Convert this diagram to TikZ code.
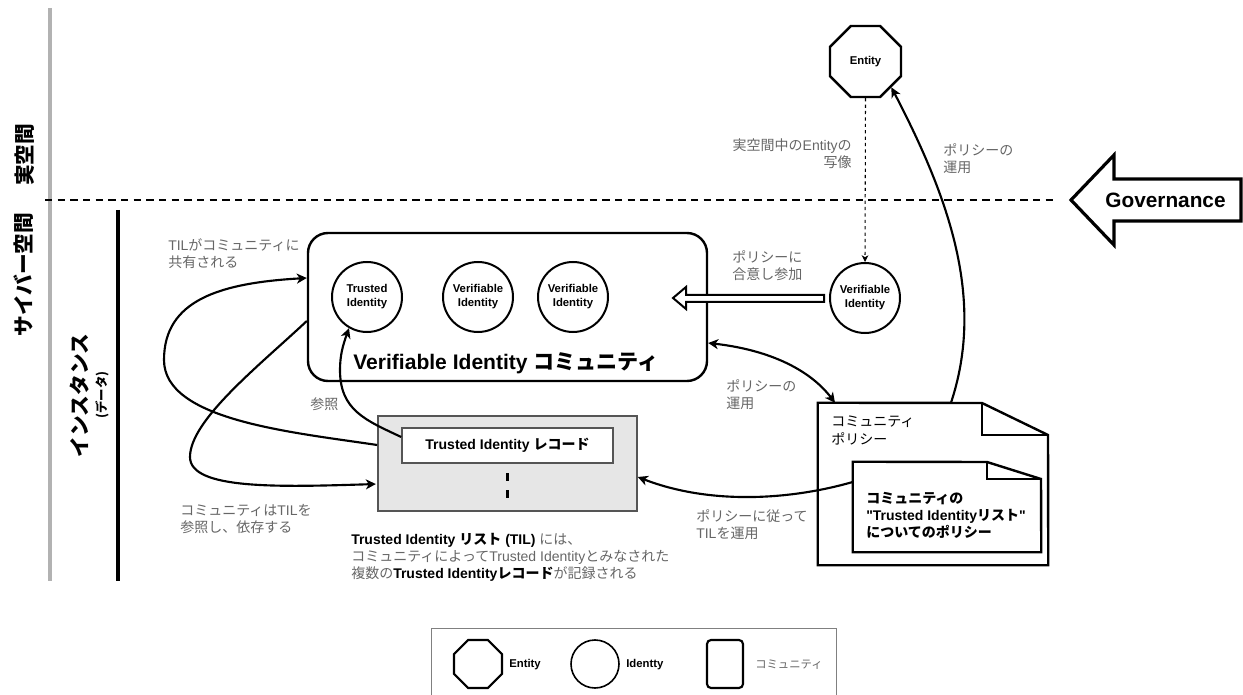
\documentclass[tikz,border=0pt]{standalone}
\usepackage{fontspec}
\setmainfont{Liberation Sans}
\newfontfamily\jp{Noto Sans CJK JP}
\newfontfamily\plainq{Liberation Sans}
\usetikzlibrary{arrows.meta,shapes.geometric,calc}
\newcommand{\J}[1]{{\jp #1}}
\definecolor{lblgray}{HTML}{666666}
\definecolor{listfill}{HTML}{E6E6E6}
\definecolor{listline}{HTML}{555555}
\newcommand{\szlabel}{\fontsize{10.5}{12.9}\selectfont}
\newcommand{\szsmall}{\fontsize{8.5}{10.5}\selectfont\bfseries}
\tikzset{
  lbl/.style={text=lblgray,font=\szlabel,align=left,inner sep=0pt,anchor=west},
  lblr/.style={lbl,align=right,anchor=east},
  lbldark/.style={lbl,text=black},
  conn/.style={line width=1.6pt,-{Stealth[length=7.5pt,width=7.5pt,inset=2.2pt]}},
  connboth/.style={line width=1.6pt,{Stealth[length=7.5pt,width=7.5pt,inset=2.2pt]}-{Stealth[length=7.5pt,width=7.5pt,inset=2.2pt]}},
  idcircle/.style={circle,draw=black,line width=1.5pt,fill=white,minimum size=70*0.75pt,inner sep=0pt,align=center,font=\szsmall},
  octa/.style={regular polygon,regular polygon sides=8,draw=black,fill=white,inner sep=0pt},
  vert/.style={rotate=90,font=\fontsize{15.5}{18}\selectfont\bfseries,inner sep=0pt},
  invis/.style={rectangle,inner sep=0pt}
}
\begin{document}
\begin{tikzpicture}[x=0.75pt,y=-0.75pt]
\useasboundingbox (0,0) rectangle (1243,695);
% side rules and separator
\coordinate (gt) at (50,8); \coordinate (gb) at (50,581);
\coordinate (kt) at (118,210); \coordinate (kb) at (118,581);
\coordinate (sl) at (45,200); \coordinate (sr) at (1055,200);
\draw[line width=3pt,draw=black!30] (gt) -- (gb);
\draw[line width=3pt,draw=black] (kt) -- (kb);
\draw[line width=1.5pt,dash pattern=on 5.5pt off 4pt] (sl) -- (sr);
% side titles
\node[vert] (t1) at (25,155) {\J{実空間}};
\node[vert] (t2) at (24,274.5) {\J{サイバー空間}};
\node[vert] (t3) at (80,395.5) {\J{インスタンス}};
\node[rotate=90,inner sep=0pt,font=\fontsize{9.3}{11}\selectfont\bfseries] (t4) at (102,395) {\J{(データ)}};
% Governance
\draw[line width=2.4pt,fill=white,miter limit=6] (1071,200) -- (1114,155) -- (1114,179) -- (1241,179) -- (1241,221) -- (1114,221) -- (1114,245) -- cycle;
\node[inner sep=0pt,font=\fontsize{15.6}{18}\selectfont\bfseries] (gov) at (1165.5,200) {Governance};
% Entity
\node[octa,line width=1.8pt,minimum size=76.8*0.75pt,font=\szsmall] (ent) at (865.5,61.5) {\raisebox{-1.5pt}{Entity}};
% Community
\node[rectangle,draw=black,line width=1.8pt,rounded corners=15pt,fill=white,minimum width=399*0.75pt,minimum height=148*0.75pt] (comm) at (507.5,307) {};
\node[idcircle] (ti) at (367,297) {Trusted\\Identity};
\node[idcircle] (v1) at (478,297) {Verifiable\\Identity};
\node[idcircle] (v2) at (573,297) {Verifiable\\Identity};
\node[inner sep=0pt,anchor=west,font=\fontsize{15.8}{18}\selectfont\bfseries] (commt) at (353,363) {Verifiable Identity \J{コミュニティ}};
% right identity
\node[idcircle] (v3) at (865,298) {Verifiable\\Identity};
% List
\node[rectangle,draw=listline,line width=1.2pt,fill=listfill,minimum width=259*0.75pt,minimum height=95*0.75pt] (til) at (507.5,463.5) {};
\node[rectangle,draw=listline,line width=1.2pt,fill=white,minimum width=211*0.75pt,minimum height=35*0.75pt,inner sep=0pt,font=\fontsize{10.5}{12}\selectfont\bfseries] (rec) at (507.5,445.5) {Trusted Identity \J{レコード}};
\coordinate (d1) at (507.5,473); \coordinate (d1b) at (507.5,481);
\coordinate (d2) at (507.5,490); \coordinate (d2b) at (507.5,498);
\draw[line width=2.2pt] (d1) -- (d1b);
\draw[line width=2.2pt] (d2) -- (d2b);
% Documents
\node[invis,minimum width=230*0.75pt,minimum height=162*0.75pt] (doc) at (933,484) {};
\draw[line width=1.8pt,fill=white,line join=miter] (doc.north west) -- (982,403) -- (1048,435) -- (doc.south east) -- (doc.south west) -- cycle;
\draw[line width=1.8pt] (982,403) -- (982,435) -- (1048,435);
\node[invis,minimum width=188*0.75pt,minimum height=90*0.75pt] (idoc) at (947,507) {};
\draw[line width=1.8pt,fill=white] (idoc.north west) -- (987,462) -- (1041,479) -- (idoc.south east) -- (idoc.south west) -- cycle;
\draw[line width=1.8pt] (987,462) -- (987,479) -- (1041,479);
\node[lbldark] (doct) at (831,430.5) {\J{コミュニティ}\\\J{ポリシー}};
\node[lbldark,font=\szlabel\bfseries] (idoct) at (866,515.5) {\J{コミュニティの}\\{\plainq"}Trusted Identity\J{リスト}{\plainq"}\\\J{についてのポリシー}};
% Connectors
\draw[conn] (til.west |- 0,445) .. controls (290,432) and (164,420) .. (164,360) .. controls (164,300) and (220,283) .. (comm.west |- 0,278);
\draw[conn,shorten >=1pt] (comm.west |- 0,321) .. controls (260,365) and (190,420) .. (190,457) .. controls (190,490) and (280,487) .. (til.west |- 0,484);
\draw[conn] (rec.west |- 0,437) .. controls (365,420) and (340,410) .. (340,370) .. controls (340,355) and (343,345) .. (ti.-120);
\draw[connboth] (comm.east |- 0,343) .. controls (770,350) and (810,370) .. (doc.north west -| 835,0);
\draw[conn] (idoc.west |- 0,482) .. controls (790,500) and (710,505) .. (til.east |- 0,477);
\draw[conn] (doc.north west -| 951,0) .. controls (985,300) and (950,200) .. (ent.-45);
\draw[line width=0.8pt,dash pattern=on 2.4pt off 2.4pt,-{Stealth[length=5pt,width=5pt,inset=1.4pt]}] (ent.south) -- (v3.north);
% hollow arrow
\draw[line width=1.5pt,fill=white,miter limit=6] (824,295) -- (686,295) -- (686,287) -- (673,298) -- (686,309) -- (686,302) -- (824,302) -- cycle;
% Labels
\node[lbl] (l1) at (168,253.5) {TIL\J{がコミュニティに}\\\J{共有される}};
\node[lbl] (l2) at (180,519) {\J{コミュニティは}TIL\J{を}\\\J{参照し、依存する}};
\node[lbl] (l3) at (310,404) {\J{参照}};
\node[lbl] (l4) at (732,265.5) {\J{ポリシーに}\\\J{合意し参加}};
\node[lbl] (l5) at (726,395) {\J{ポリシーの}\\\J{運用}};
\node[lbl] (l6) at (696,524.5) {\J{ポリシーに従って}\\TIL\J{を運用}};
\node[lblr] (l7) at (852,153.5) {\J{実空間中の}Entity\J{の}\\\J{写像}};
\node[lbl] (l8) at (943,159) {\J{ポリシーの}\\\J{運用}};
\node[lbl] (l9) at (351,557.5) {\textcolor{black}{\bfseries Trusted Identity \J{リスト} (TIL)} \J{には、}\\\J{コミュニティによって}Trusted Identity\J{とみなされた}\\\J{複数の}\textcolor{black}{\bfseries Trusted Identity\J{レコード}}\J{が記録される}};
% Legend
\coordinate (lga) at (431,695); \coordinate (lgb) at (431,628);
\coordinate (lgc) at (836,628); \coordinate (lgd) at (836,695);
\draw[line width=0.6pt,draw=black!50] (lga) -- (lgb) -- (lgc) -- (lgd);
\node[octa,line width=1.6pt,minimum size=52*0.75pt] (lo) at (478,664) {};
\node[circle,draw=black,line width=1.2pt,minimum size=48*0.75pt,inner sep=0pt] (lc) at (595,664) {};
\node[rectangle,draw=black,line width=1.6pt,rounded corners=3pt,minimum width=36*0.75pt,minimum height=48*0.75pt,inner sep=0pt] (lr) at (725,664) {};
\node[inner sep=0pt,anchor=west,font=\szsmall] (lt1) at (509,664.5) {Entity};
\node[inner sep=0pt,anchor=west,font=\szsmall] (lt2) at (626,664.5) {Identty};
\node[inner sep=0pt,anchor=west,text=lblgray,font=\fontsize{8.5}{10}\selectfont] (lt3) at (755,664.5) {\J{コミュニティ}};
\end{tikzpicture}
\end{document}
